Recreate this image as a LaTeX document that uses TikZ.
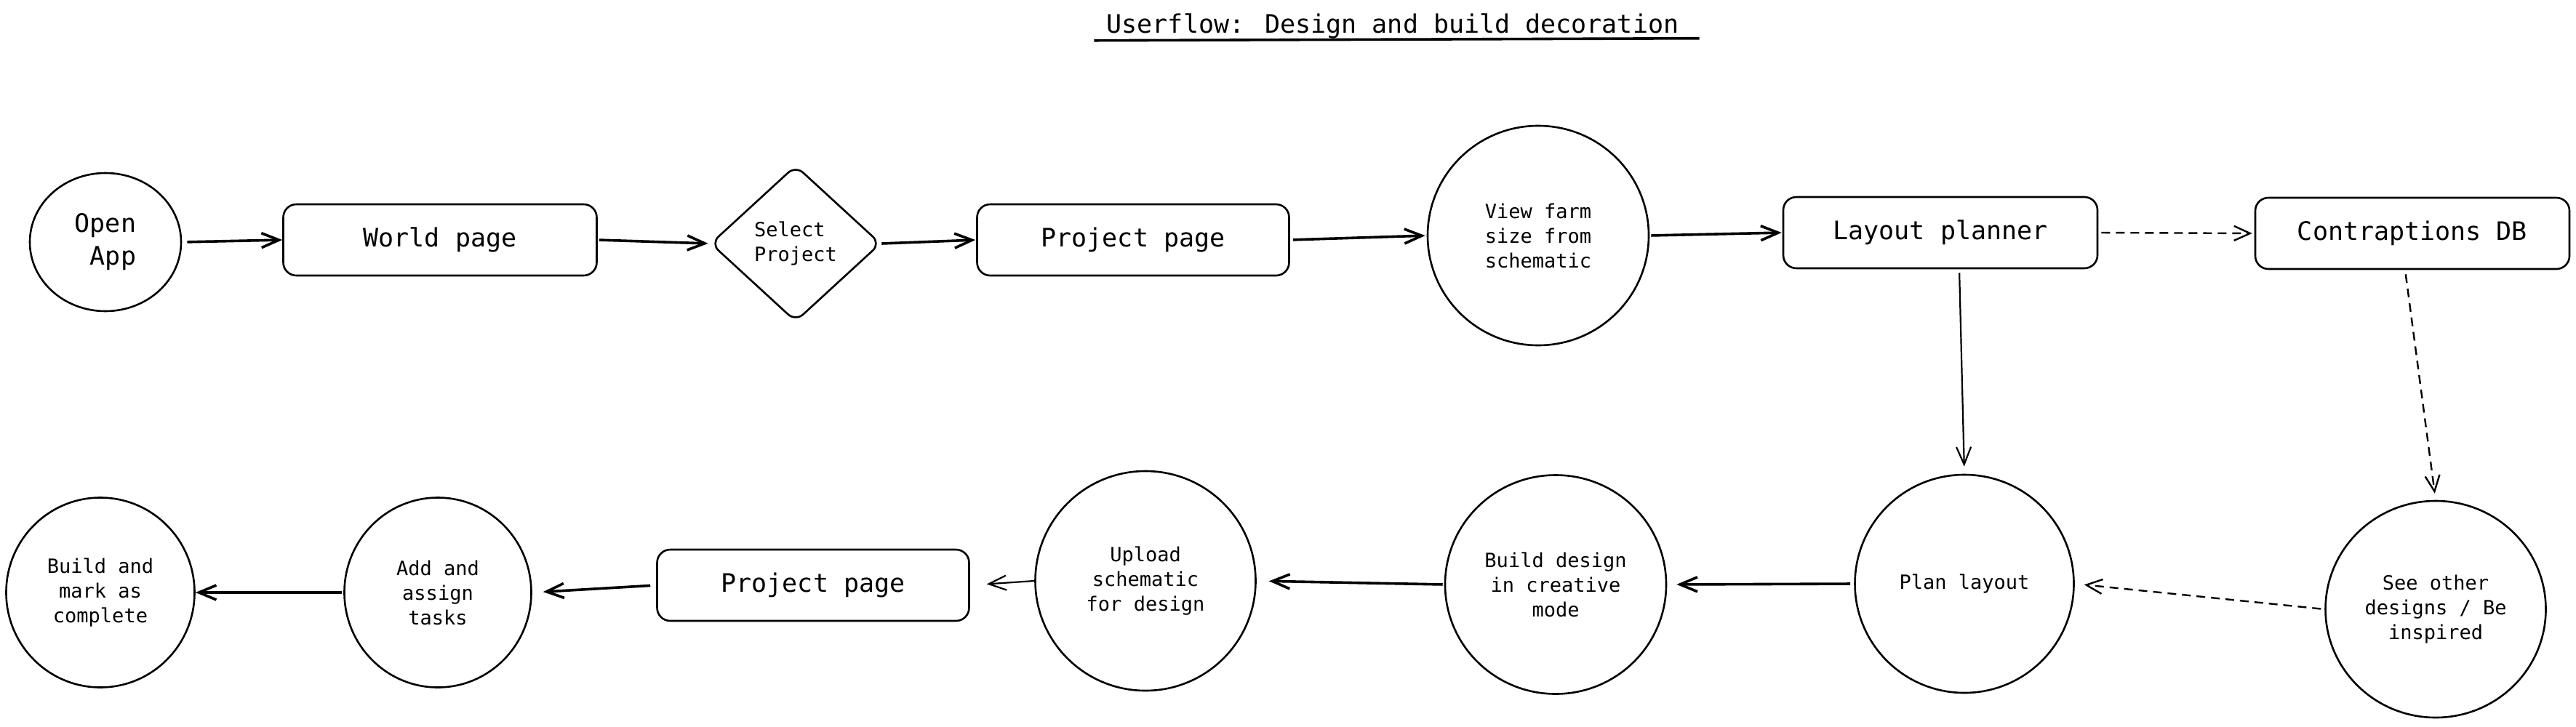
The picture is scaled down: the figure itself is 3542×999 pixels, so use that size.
\documentclass[tikz,border=0pt]{standalone}
\usepackage{fontspec}
\newfontfamily\flowmono{DejaVu Sans Mono}
\newcommand\flowbig{\flowmono\fontsize{35}{45}\selectfont}
\newcommand\flowsmall{\flowmono\fontsize{27}{34}\selectfont}
\usetikzlibrary{arrows.meta}
\usetikzlibrary{shapes.geometric}

\tikzset{
  stepbox/.style={draw, rounded corners=18pt, line width=2.6pt, minimum width=431pt, minimum height=98pt, inner sep=0pt, font=\flowbig},
  stepcircle/.style={draw, ellipse, line width=2.6pt, inner sep=0pt, align=center, font=\flowsmall},
  choice/.style={draw, diamond, rounded corners=14pt, line width=2.6pt, minimum width=234pt, minimum height=215pt, inner sep=0pt, align=left, font=\flowsmall},
  flow/.style={-{Straight Barb[length=24pt,width=20pt]}, line width=3.6pt},
  thinflow/.style={-{Straight Barb[length=24pt,width=20pt]}, line width=2.2pt},
  dashflow/.style={-{Straight Barb[length=22pt,width=20pt]}, line width=2.4pt, dash pattern=on 12pt off 8pt},
}

\begin{document}
\begin{tikzpicture}[x=1pt,y=1pt,yscale=-1,xscale=1]
\useasboundingbox[fill=white] (0,0) rectangle (3542,999);

%Title
\node[anchor=base, inner sep=0pt, font=\flowbig] (title) at (1915,45) {Userflow: Design and build decoration};
\draw[line width=3.6pt] ([xshift=-17pt,yshift=3pt]title.south west) -- ([xshift=28pt]title.south east);

%Top row
\node[stepcircle, font=\flowbig, align=right, minimum width=208pt, minimum height=190pt] (openapp) at (145,333) {Open\\App};
\node[stepbox] (world) at (605,330) {World page};
\node[choice] (select) at (1094,335) {Select\\Project};
\node[stepbox, minimum width=429pt] (projtop) at (1558,330) {Project page};
\node[stepcircle, minimum width=304pt, minimum height=302pt] (viewfarm) at (2115,324) {View farm\\size from\\schematic};
\node[stepbox, minimum width=432pt] (layout) at (2668,320) {Layout planner};
\node[stepbox, minimum width=432pt] (contrap) at (3317,321) {Contraptions DB};

%Bottom row
\node[stepcircle, minimum width=301pt, minimum height=300pt] (plan) at (2701,803) {Plan layout};
\node[stepcircle, minimum width=303pt, minimum height=298pt] (seeother) at (3349,838) {See other\\designs / Be\\inspired};
\node[stepcircle, minimum width=304pt, minimum height=301pt] (builddes) at (2139,804) {Build design\\in creative\\mode};
\node[stepcircle, minimum width=303pt, minimum height=302pt] (upload) at (1575,799) {Upload\\schematic\\for design};
\node[stepbox, minimum width=429pt] (projbot) at (1118,805) {Project page};
\node[stepcircle, minimum width=257pt, minimum height=261pt] (addtask) at (602,815) {Add and\\assign\\tasks};
\node[stepcircle, minimum width=259pt, minimum height=261pt] (buildmark) at (138,815) {Build and\\mark as\\complete};

%Connectors
\draw[flow, shorten <=7pt] (openapp.east) -- (world.west);
\draw[flow, shorten <=2pt, shorten >=2pt] (world.east) -- (select.west);
\draw[flow, shorten >=1pt] (select.east) -- (projtop.west);
\draw[flow, shorten <=4pt, shorten >=2pt] (projtop.east) -- (viewfarm.west);
\draw[flow, shorten <=2pt, shorten >=1pt] (viewfarm.east) -- (layout.west);
\draw[dashflow, shorten <=4pt, shorten >=3pt] (layout.east) -- (contrap.west);
\draw[thinflow, shorten <=5pt, shorten >=10pt] ([xshift=26pt]layout.south) -- (plan.north);
\draw[dashflow, shorten <=6pt, shorten >=9pt] ([xshift=-10pt]contrap.south) -- (seeother.north);
\draw[dashflow, shorten <=5pt, shorten >=13pt] (seeother.west) -- (plan.east);
\draw[flow, shorten <=5pt, shorten >=13pt] (plan.west) -- (builddes.east);
\draw[flow, shorten <=2pt, shorten >=17pt] (builddes.west) -- (upload.east);
\draw[thinflow, shorten >=23pt] (upload.west) -- (projbot.east);
\draw[flow, shorten <=8pt, shorten >=15pt] (projbot.west) -- (addtask.east);
\draw[flow, shorten <=2pt] (addtask.west) -- (buildmark.east);

\end{tikzpicture}
\end{document}
